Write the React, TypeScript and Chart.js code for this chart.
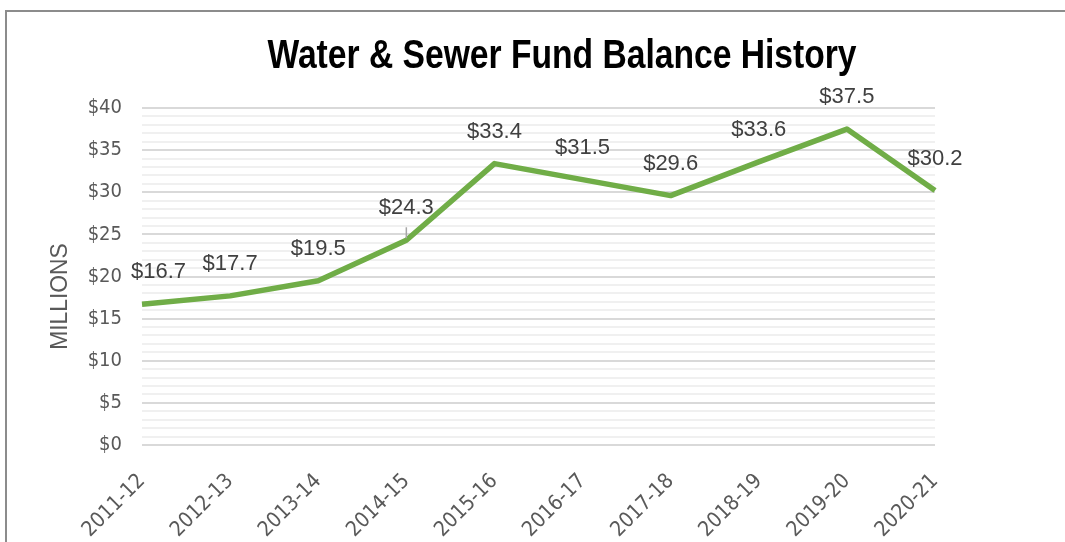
import React, { useEffect, useRef } from 'react';
import { Chart, registerables } from 'chart.js';

Chart.register(...registerables);

const categories = ['2011-12', '2012-13', '2013-14', '2014-15', '2015-16', '2016-17', '2017-18', '2018-19', '2019-20', '2020-21'];
const balances = [16.7, 17.7, 19.5, 24.3, 33.4, 31.5, 29.6, 33.6, 37.5, 30.2];
const dataLabels = ['$16.7', '$17.7', '$19.5', '$24.3', '$33.4', '$31.5', '$29.6', '$33.6', '$37.5', '$30.2'];
const chartTitle = 'Water & Sewer Fund Balance History';
const yAxisTitle = 'MILLIONS';
const yMin = 0;
const yMax = 40;
const yMajorStep = 5;
const yMinorStep = 1;
const leaderIndex = 3;

const SANS = '"Liberation Sans", Arial, sans-serif';
const COND = '"DejaVu Sans Condensed", "Liberation Sans", sans-serif';

function drawScaledText(ctx: any, text: string, x: number, y: number, sx: number, rot = 0) {
  ctx.save();
  ctx.translate(x, y);
  if (rot) ctx.rotate(rot);
  ctx.scale(sx, 1);
  ctx.fillText(text, 0, 0);
  ctx.restore();
}

const overlayPlugin = {
  id: 'overlay',
  afterDatasetsDraw(chart: any) {
    const { ctx, chartArea } = chart;
    const meta = chart.getDatasetMeta(0);
    ctx.save();
    ctx.font = `22px ${SANS}`;
    ctx.fillStyle = '#404040';
    ctx.textAlign = 'center';
    ctx.textBaseline = 'middle';
    meta.data.forEach((pt: any, i: number) => {
      const text = dataLabels[i];
      const w = ctx.measureText(text).width;
      let x = pt.x;
      const minX = chartArea.left + w / 2 - 11;
      if (x < minX) x = minX;
      const y = pt.y - 32;
      ctx.fillText(text, x, y);
      if (i === leaderIndex) {
        ctx.strokeStyle = '#a6a6a6';
        ctx.lineWidth = 1.5;
        ctx.beginPath();
        ctx.moveTo(pt.x, pt.y - 13);
        ctx.lineTo(pt.x, pt.y - 2);
        ctx.stroke();
      }
    });
    ctx.restore();
  },
  afterDraw(chart: any) {
    const { ctx, chartArea } = chart;
    ctx.save();
    ctx.font = `bold 41px ${SANS}`;
    ctx.fillStyle = '#000000';
    ctx.textAlign = 'center';
    ctx.textBaseline = 'middle';
    drawScaledText(ctx, chartTitle, 562, 57, 0.82);
    ctx.font = `24px ${SANS}`;
    ctx.fillStyle = '#595959';
    const midY = (chartArea.top + chartArea.bottom) / 2 + 20;
    ctx.save();
    ctx.translate(60, midY);
    ctx.rotate(-Math.PI / 2);
    ctx.scale(0.95, 1);
    ctx.fillText(yAxisTitle, 0, 0);
    ctx.restore();
    ctx.restore();
  },
};

export default function App() {
  const canvasRef = useRef<HTMLCanvasElement | null>(null);

  useEffect(() => {
    if (!canvasRef.current) return;
    const chart = new Chart(canvasRef.current, {
      type: 'line',
      data: {
        labels: categories,
        datasets: [
          {
            data: balances,
            borderColor: '#70AD47',
            backgroundColor: '#70AD47',
            borderWidth: 5.5,
            pointRadius: 0,
            tension: 0,
            borderJoinStyle: 'round',
            borderCapStyle: 'butt',
          },
        ],
      },
      options: {
        responsive: false,
        animation: false,
        layout: { padding: { top: 108, right: 130, bottom: 0, left: 0 } },
        plugins: {
          legend: { display: false },
          title: { display: false },
          tooltip: { enabled: false },
        },
        scales: {
          x: {
            offset: false,
            grid: { display: false, drawTicks: false },
            border: { display: false },
            ticks: {
              autoSkip: false,
              minRotation: 45,
              maxRotation: 45,
              padding: 24,
              color: '#595959',
              font: { family: COND, size: 21 },
            },
            afterFit: (scale: any) => {
              scale.height = 97;
            },
          },
          y: {
            min: yMin,
            max: yMax,
            grid: {
              drawTicks: false,
              color: (c: any) => (c.tick && c.tick.value % yMajorStep === 0 ? '#d9d9d9' : '#f0f0f0'),
              lineWidth: 2,
            },
            border: { display: false },
            ticks: {
              stepSize: yMinorStep,
              autoSkip: false,
              maxTicksLimit: 100,
              padding: 20,
              color: '#595959',
              font: { family: COND, size: 20 },
              callback: (v: any) => (Number(v) % yMajorStep === 0 ? '$' + v : ''),
            },
            afterFit: (scale: any) => {
              scale.width = 142;
            },
          },
        },
      },
      plugins: [overlayPlugin],
    });
    return () => chart.destroy();
  }, []);

  return (
    <div style={{ position: 'fixed', left: 0, top: 0, width: 1065, height: 542, background: '#ffffff', overflow: 'hidden' }}>
      <div
        style={{
          position: 'absolute',
          left: 5,
          top: 10,
          width: 1200,
          height: 800,
          border: '2px solid #8c8c8c',
          boxSizing: 'border-box',
        }}
      />
      <canvas ref={canvasRef} width={1065} height={542} style={{ position: 'absolute', left: 0, top: 0 }} />
    </div>
  );
}
